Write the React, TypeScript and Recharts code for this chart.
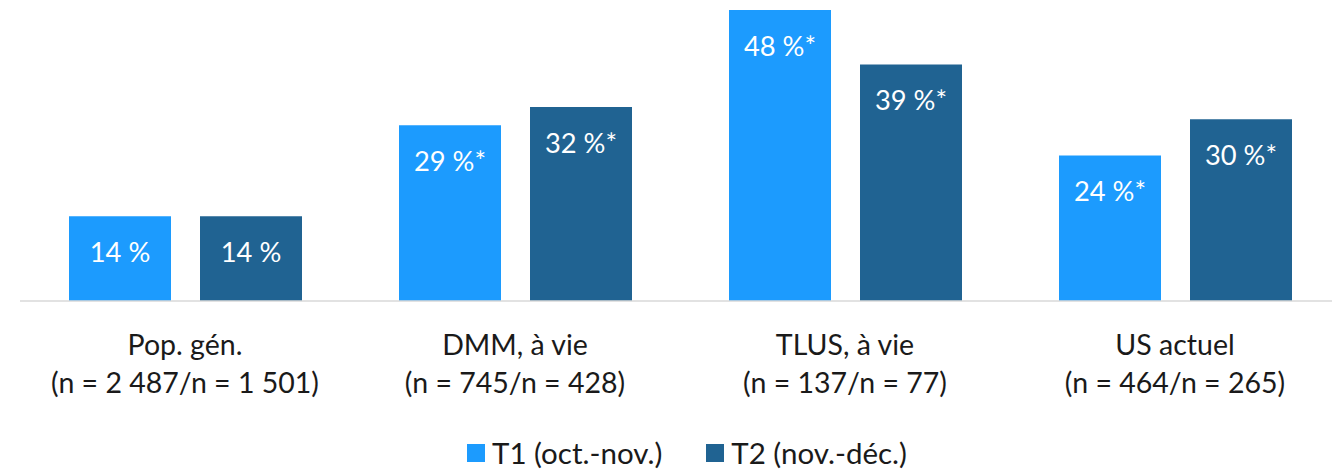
import React from "react";
import { BarChart, Bar, XAxis, YAxis, Legend, LabelList } from "recharts";

const categories = ["Pop. gén.", "DMM, à vie", "TLUS, à vie", "US actuel"];
const sampleSizes = ["(n = 2 487/n = 1 501)", "(n = 745/n = 428)", "(n = 137/n = 77)", "(n = 464/n = 265)"];
const t1Values = [14, 29, 48, 24];
const t2Values = [14, 32, 39, 30];
const t1Labels = ["14 %", "29 %*", "48 %*", "24 %*"];
const t2Labels = ["14 %", "32 %*", "39 %*", "30 %*"];
const seriesNames = ["T1 (oct.-nov.)", "T2 (nov.-déc.)"];

const C1 = "#1C9BFE";
const C2 = "#206392";
const FONT = "Lato, 'Open Sans', sans-serif";

const data = categories.map((c, i) => ({
  cat: c,
  n: sampleSizes[i],
  t1: t1Values[i],
  t2: t2Values[i],
  l1: t1Labels[i],
  l2: t2Labels[i],
}));

const CatTick = (props: any) => {
  const { x, y, payload, index } = props;
  return (
    <g>
      <text x={x} y={y + 35} textAnchor="middle" dominantBaseline="central" fontSize={28.5} fill="#1a1a1a" fontFamily={FONT}>
        {payload.value}
      </text>
      <text x={x} y={y + 73} textAnchor="middle" dominantBaseline="central" fontSize={28.5} fill="#1a1a1a" fontFamily={FONT}>
        {sampleSizes[index]}
      </text>
    </g>
  );
};

const InLabel = (props: any) => {
  const { x, y, width, value } = props;
  return (
    <text x={x + width / 2} y={y + 35} textAnchor="middle" dominantBaseline="central" fontSize={27.3} fill="#ffffff" fontFamily={FONT}>
      {value}
    </text>
  );
};

const LegendContent = () => (
  <div style={{ display: "flex", justifyContent: "center", alignItems: "center", fontFamily: FONT, fontSize: 29.5, color: "#1a1a1a", lineHeight: "33px", paddingLeft: 14 }}>
    {[C1, C2].map((c, i) => (
      <div key={i} style={{ display: "flex", alignItems: "center", marginRight: i === 0 ? 44 : 0 }}>
        <span style={{ display: "inline-block", width: 18, height: 18, background: c, marginRight: 7 }} />
        <span>{seriesNames[i]}</span>
      </div>
    ))}
  </div>
);

export default function App() {
  return (
    <BarChart
      width={1332}
      height={461}
      data={data}
      margin={{ top: 2, right: 0, left: 12, bottom: 0 }}
      barGap={29}
      barCategoryGap={48}
    >
      <XAxis
        dataKey="cat"
        tickLine={false}
        axisLine={{ stroke: "#D9D9D9", strokeWidth: 1.5 }}
        tick={<CatTick />}
        height={135}
        interval={0}
      />
      <YAxis hide domain={[0, 48]} />
      <Legend verticalAlign="bottom" content={<LegendContent />} wrapperStyle={{ bottom: 0 }} />
      <Bar dataKey="t1" fill={C1} isAnimationActive={false} barSize={102}>
        <LabelList dataKey="l1" content={<InLabel />} />
      </Bar>
      <Bar dataKey="t2" fill={C2} isAnimationActive={false} barSize={102}>
        <LabelList dataKey="l2" content={<InLabel />} />
      </Bar>
    </BarChart>
  );
}
